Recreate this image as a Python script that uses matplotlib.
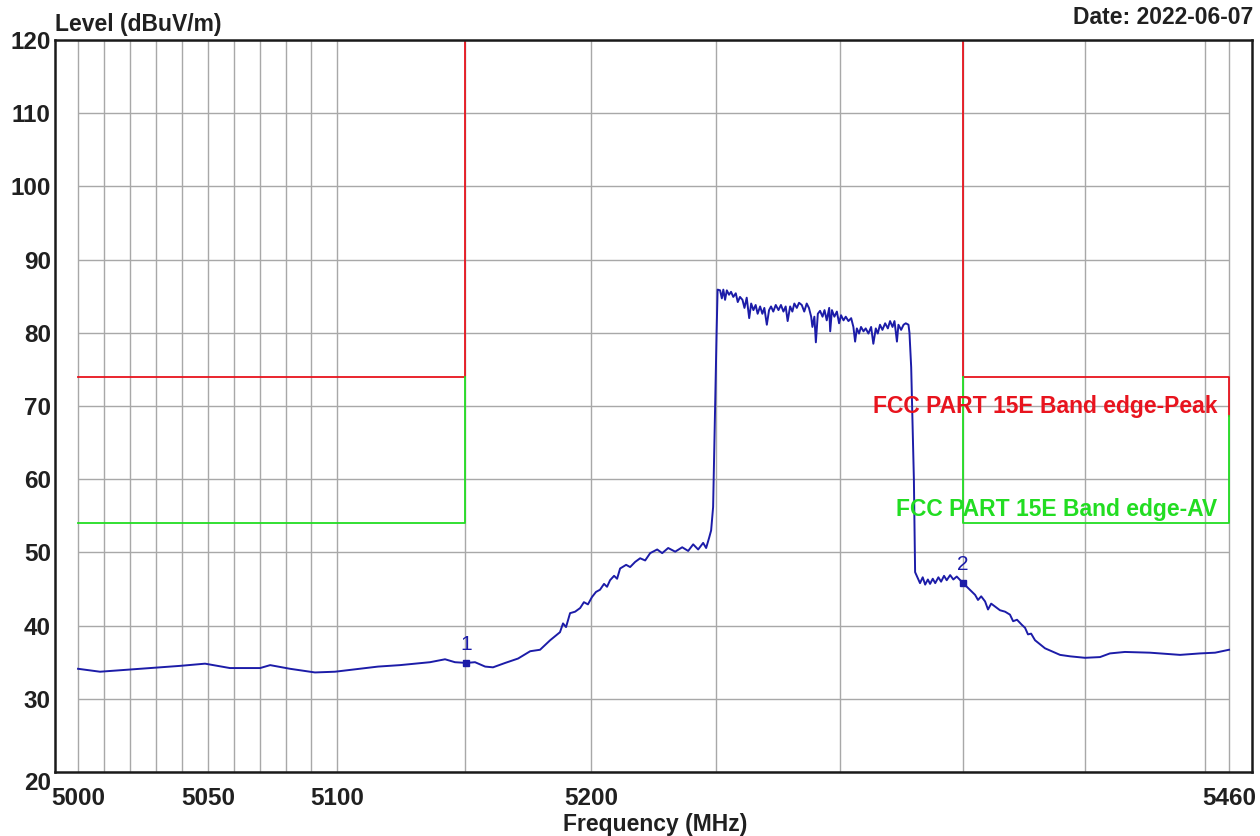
import numpy as np
import matplotlib.pyplot as plt

# measured trace (MHz, dBuV/m)
freq = [5000, 5008.4, 5019.9, 5031.4, 5039.2, 5048.8, 5058.4, 5070.1, 5074.0, 5081.7,
        5091.4, 5099.2, 5109.0, 5116.0, 5124.6, 5136.4, 5142.3, 5146.2, 5150.6, 5154.1,
        5158.1, 5161.2, 5166.0, 5171.1, 5175.9, 5179.8, 5183.8,
        5187.7, 5188.9, 5190.1, 5191.7, 5193.7, 5195.7, 5197.2, 5198.8, 5200.4, 5202.0,
        5203.6, 5205.2, 5206.4, 5207.6, 5209.2, 5210.4, 5211.6, 5214.0, 5215.6, 5217.6,
        5219.6, 5221.6, 5223.6, 5226.4, 5228.4, 5230.8, 5233.6, 5236.4, 5238.8, 5240.8,
        5242.8, 5244.8, 5246.0, 5247.2, 5248.0, 5248.8,
        5249.6, 5250.2, 5250.6,
        5251.6, 5252.3, 5252.9, 5253.6, 5254.3, 5255.2, 5256.0, 5256.9, 5257.9, 5258.7,
        5259.6, 5260.6, 5261.4, 5262.3, 5263.3, 5264.1, 5265.0, 5265.9, 5266.7, 5267.7,
        5268.6, 5269.4, 5270.4, 5271.3, 5272.1, 5273.0, 5274.0, 5275.1, 5276.1, 5277.1,
        5278.0, 5278.8, 5279.8, 5280.7, 5281.5, 5282.5, 5283.4, 5284.5, 5285.5, 5286.5,
        5287.4, 5288.3, 5288.8, 5289.6, 5290.2, 5291.0, 5291.9, 5292.9, 5293.7, 5294.6,
        5295.6, 5296.0, 5296.7, 5297.7, 5298.7, 5299.6, 5300.4, 5301.4, 5302.3, 5303.4,
        5304.5, 5305.4, 5306.1, 5306.8, 5307.7, 5308.5, 5309.5, 5310.4, 5311.5, 5312.6,
        5313.5, 5314.5, 5315.3, 5316.2, 5317.2, 5318.3, 5319.4, 5320.3, 5321.3, 5322.1,
        5323.1, 5323.7, 5324.8, 5325.8, 5326.7, 5327.8, 5328.2,
        5328.9, 5330.0, 5330.5,
        5332.5, 5333.6, 5334.6, 5335.7, 5336.6, 5337.7, 5338.7, 5340.0, 5341.1, 5342.3,
        5343.4, 5344.8, 5346.1, 5347.5, 5350.1,
        5355.0, 5356.2, 5357.5, 5359.1, 5360.3, 5361.6, 5363.2, 5365.2, 5367.3, 5369.3,
        5370.6, 5372.2, 5374.2, 5375.5, 5376.7, 5378.0, 5379.6,
        5383.7, 5389.9, 5394.1, 5400.2, 5406.4, 5410.5, 5416.7, 5427.1,
        5439.6, 5447.9, 5454.2, 5460]
level = [34.1, 33.7, 34.0, 34.3, 34.5, 34.8, 34.2, 34.2, 34.6, 34.1,
         33.6, 33.7, 34.1, 34.4, 34.6, 35.0, 35.4, 35.0, 34.9, 35.0,
         34.4, 34.3, 34.9, 35.5, 36.5, 36.7, 38.0,
         39.1, 40.3, 39.8, 41.7, 41.9, 42.4, 43.2, 42.9, 43.9, 44.6,
         44.9, 45.7, 45.3, 46.2, 46.8, 46.4, 47.8, 48.3, 48.0, 48.7,
         49.2, 48.9, 49.9, 50.4, 49.9, 50.6, 50.1, 50.7, 50.2, 51.1,
         50.4, 51.3, 50.6, 52.0, 53.0, 56.2,
         70.0, 80.1, 85.9,
         85.8, 84.7, 85.9, 84.5, 85.8, 85.2, 85.6, 84.9, 85.4, 84.2,
         84.9, 84.5, 83.4, 84.8, 82.0, 84.0, 83.1, 83.8, 82.6, 83.6,
         82.6, 83.4, 81.1, 83.1, 83.6, 82.9, 83.8, 83.1, 83.8, 82.9,
         83.6, 81.6, 83.6, 82.9, 84.0, 83.4, 84.1, 83.8, 82.9, 84.0,
         83.4, 82.2, 80.8, 82.2, 78.7, 82.6, 83.0, 82.2, 83.1, 81.7,
         83.4, 80.2, 83.1, 82.2, 82.9, 81.3, 82.4, 81.7, 82.2, 81.6,
         82.0, 80.8, 78.8, 80.6, 79.9, 80.8, 80.2, 80.6, 79.9, 80.8,
         78.5, 80.6, 79.9, 81.1, 80.4, 81.3, 80.6, 81.6, 80.8, 81.6,
         78.8, 81.1, 80.4, 81.1, 81.3, 81.1, 80.0,
         75.3, 60.0, 47.3,
         45.8, 46.6, 45.6, 46.3, 45.7, 46.4, 45.8, 46.6, 46.0, 46.8,
         46.2, 46.9, 46.3, 46.7, 45.8,
         44.2, 43.5, 44.0, 43.3, 42.2, 43.0, 42.6, 42.1, 41.9, 41.5,
         40.6, 40.8, 40.1, 39.7, 38.8, 38.9, 38.0,
         36.9, 36.0, 35.8, 35.6, 35.7, 36.2, 36.4, 36.3,
         36.0, 36.2, 36.3, 36.7]

# limit lines
peak_f = [5000, 5150, 5150, 5350, 5350, 5460, 5460]
peak_l = [74, 74, 120, 120, 74, 74, 68.6]
av_f = [5000, 5150, 5150, np.nan, 5350, 5350, 5460, 5460]
av_l = [54, 54, 74, np.nan, 74, 54, 54, 68.6]

# markers
mk_f = [5150.6, 5350.1]
mk_l = [34.9, 45.8]
mk_txt = ["1", "2"]

xticks = [5000, 5050, 5100, 5200, 5460]
yticks = list(range(20, 121, 10))
vgrid = list(range(5000, 5101, 10)) + list(range(5150, 5451, 50)) + [5460]

FONT = "Liberation Sans"
TXT = "#202020"
BLUE = "#1c1ca8"


def main():
    fig = plt.figure(figsize=(12.6, 8.36), dpi=100)
    ax = fig.add_axes([55 / 1260, 1 - 772 / 836, 1197 / 1260, 732 / 836])

    ax.set_xscale("log")
    ax.set_xlim(4991.2, 5469.6)
    ax.set_ylim(20, 120)

    # grid, only inside the data range
    ax.vlines(vgrid, 20, 120, color="#a8a8a8", lw=1.0, zorder=1)
    ax.hlines(yticks, 5000, 5460, color="#a8a8a8", lw=1.0, zorder=1)

    ax.plot(peak_f, peak_l, color="#e8141e", lw=1.3, zorder=2)
    ax.plot(av_f, av_l, color="#22dd22", lw=1.3, zorder=2)

    ax.plot(freq, level, color=BLUE, lw=1.4, zorder=3)
    ax.plot(mk_f, mk_l, "s", color=BLUE, ms=4, zorder=4)
    for f, l, t in zip(mk_f, mk_l, mk_txt):
        ax.text(f, l + 1.2, t, color=BLUE, fontsize=15, family=FONT,
                ha="center", va="bottom")

    ax.text(5455, 70.0, "FCC PART 15E Band edge-Peak", color="#e8141e",
            fontsize=16.5, fontweight="bold", family=FONT, ha="right", va="center")
    ax.text(5455, 55.8, "FCC PART 15E Band edge-AV", color="#22dd22",
            fontsize=16.5, fontweight="bold", family=FONT, ha="right", va="center")

    ax.set_xticks(xticks)
    ax.set_xticklabels([str(v) for v in xticks])
    ax.xaxis.set_minor_locator(plt.NullLocator())
    ax.set_yticks(yticks)
    ax.tick_params(axis="both", length=0, labelsize=17.5, labelcolor=TXT)
    ax.tick_params(axis="x", pad=11)
    ax.tick_params(axis="y", pad=3)
    for lab in ax.get_xticklabels() + ax.get_yticklabels():
        lab.set_fontfamily(FONT)
        lab.set_fontweight("bold")
    ax.get_yticklabels()[0].set_verticalalignment("top")

    for sp in ax.spines.values():
        sp.set_linewidth(1.8)
        sp.set_color("#1a1a1a")

    fig.text(655 / 1260, 1 - 824 / 836, "Frequency (MHz)", fontsize=16.5,
             fontweight="bold", family=FONT, color=TXT, ha="center", va="center")
    fig.text(55 / 1260, 1 - 25 / 836, "Level (dBuV/m)", fontsize=16.5,
             fontweight="bold", family=FONT, color=TXT, ha="left", va="center")
    fig.text(1253 / 1260, 1 - 18 / 836, "Date: 2022-06-07", fontsize=16.5,
             fontweight="bold", family=FONT, color=TXT, ha="right", va="center")

    fig.savefig("out.png", dpi=100)


if __name__ == "__main__":
    main()
